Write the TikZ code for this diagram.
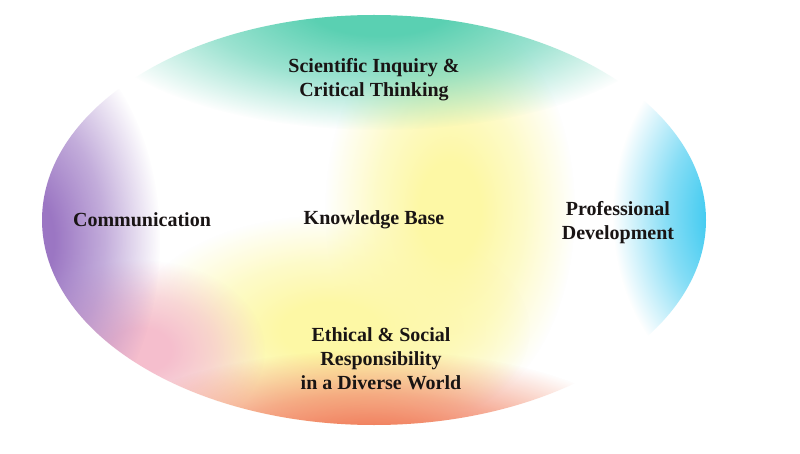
\documentclass[tikz,border=0pt]{standalone}
\usepackage{fontspec}
\setmainfont{Liberation Serif}
\usetikzlibrary{fadings}
\pgfdeclareradialshading{blobshade}{\pgfpoint{0cm}{0cm}}{rgb(0bp)=(1,1,1); rgb(6bp)=(1,1,1); rgb(15bp)=(0.6,0.6,0.6); rgb(25bp)=(0,0,0); rgb(50bp)=(0,0,0)}
\tikzfading[name=blob, shading=blobshade]
\definecolor{cteal}{RGB}{90,208,178}
\definecolor{cpurple}{RGB}{155,118,195}
\definecolor{ccyan}{RGB}{55,200,240}
\definecolor{corange}{RGB}{240,118,82}
\definecolor{cyellow}{RGB}{253,248,165}
\definecolor{cpink}{RGB}{245,190,205}
\definecolor{ctext}{RGB}{25,20,20}
\tikzset{
  lbl/.style={font=\bfseries\fontsize{20}{24}\selectfont, text=ctext, align=center, inner sep=0pt},
  glow/.style={path fading=blob}
}
\begin{document}
\begin{tikzpicture}[x=1pt,y=-1pt]
\useasboundingbox (0,0) rectangle (800,454);
\fill[white] (0,0) rectangle (800,454);
\begin{scope}
  \clip (374,220) ellipse (332 and 205);
  \fill[white] (374,220) ellipse (332 and 205);
  \fill[cyellow, glow] (450,210) ellipse (125 and 200);
  \fill[cyellow, glow] (330,330) ellipse (200 and 115);
  \fill[cpink, glow] (140,350) ellipse (125 and 90);
  \fill[cteal, glow] (380,5) ellipse (300 and 125);
  \fill[cpurple, glow] (20,240) ellipse (140 and 215);
  \fill[ccyan, glow] (748,215) ellipse (135 and 180);
  \fill[corange, glow] (370,462) ellipse (290 and 112);
\end{scope}
\node[lbl] (sci) at (374,80) {Scientific Inquiry \&\\Critical Thinking};
\node[lbl] (com) at (142,220) {Communication};
\node[lbl] (kno) at (374,220) {Knowledge Base};
\node[lbl] (pro) at (618,223) {Professional\\Development};
\node[lbl] (eth) at (381,359) {Ethical \& Social\\Responsibility\\in a Diverse World};
\end{tikzpicture}
\end{document}
